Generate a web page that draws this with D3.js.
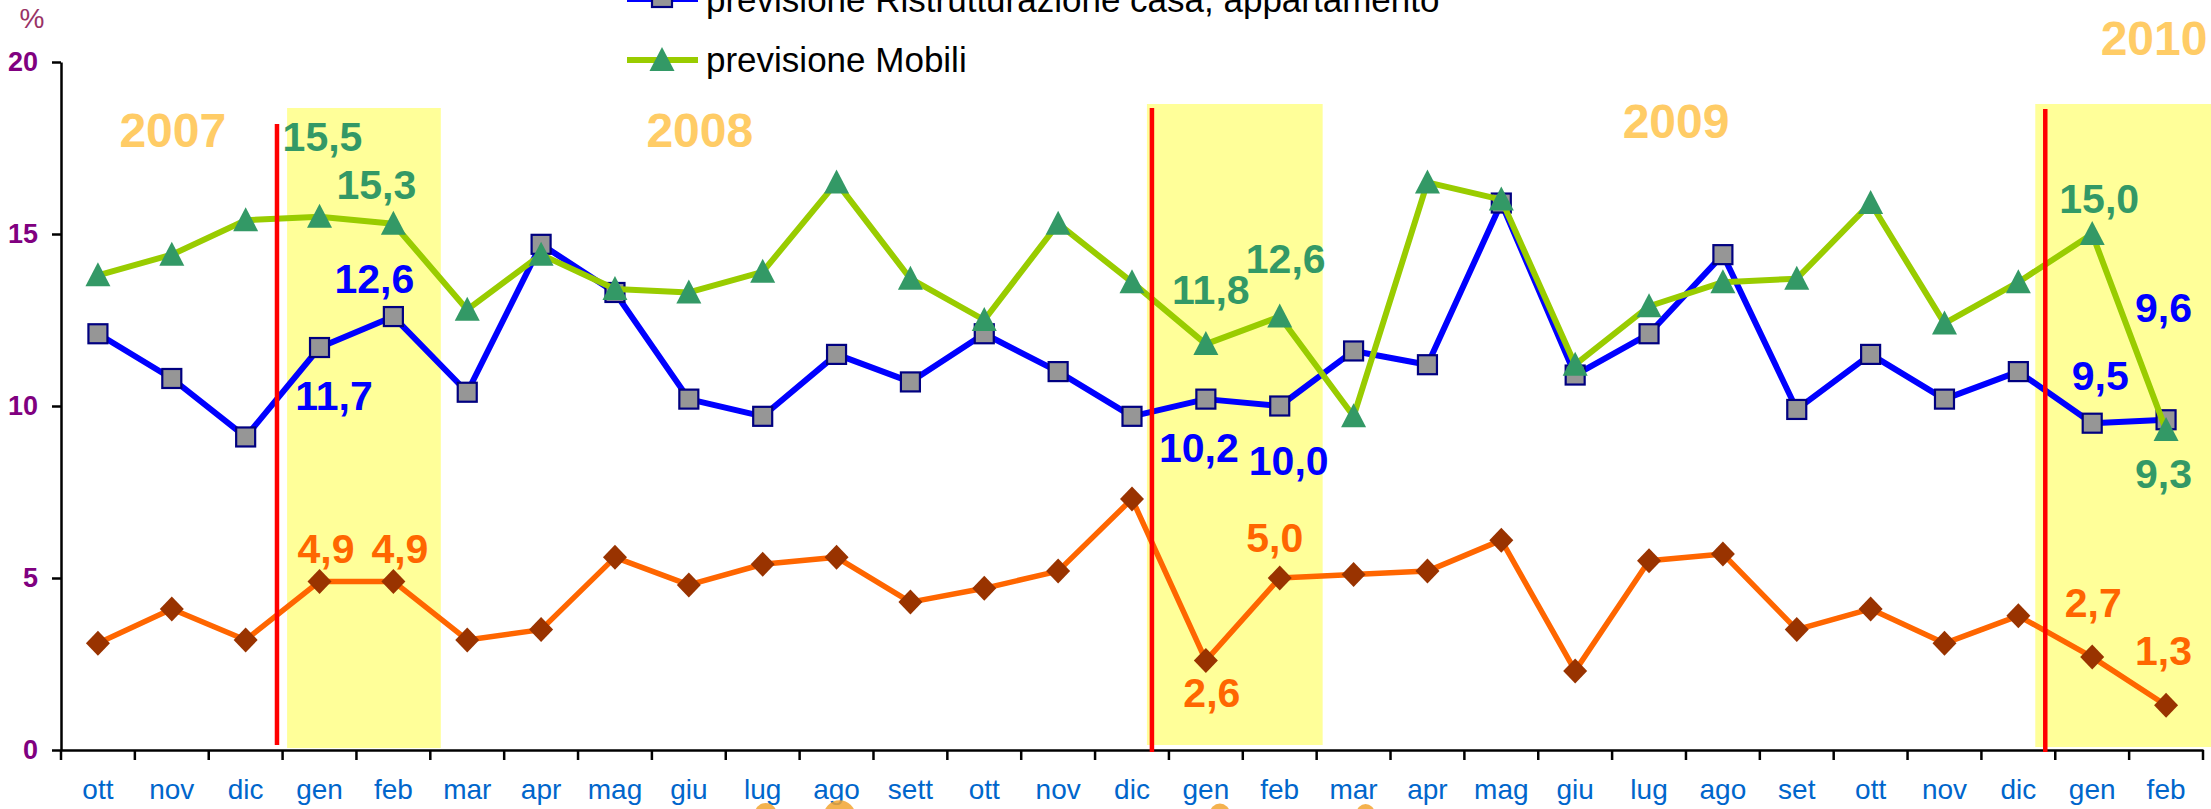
<!DOCTYPE html>
<html>
<head>
<meta charset="utf-8">
<script src="https://cdn.jsdelivr.net/npm/d3@7"></script>
<style>
  html, body { margin: 0; padding: 0; background: #ffffff; overflow: hidden; }
  svg { display: block; font-family: "Liberation Sans", Arial, sans-serif; }
</style>
</head>
<body>
<svg id="chart" width="2211" height="809"></svg>
<script>
// ---------------- data ----------------
const categories = ["ott","nov","dic","gen","feb","mar","apr","mag","giu","lug","ago","sett",
                    "ott","nov","dic","gen","feb","mar","apr","mag","giu","lug","ago","set",
                    "ott","nov","dic","gen","feb"];
const yearLabels = ["2007","2008","2009","2010"];
const seriesNames = ["previsione Altro", "previsione Ristrutturazione casa, appartamento", "previsione Mobili"];
const previsioneAltro = [3.1,4.1,3.2,4.9,4.9,3.2,3.5,5.6,4.8,5.4,5.6,4.3,4.7,5.2,7.3,2.6,5.0,5.1,5.2,6.1,2.3,5.5,5.7,3.5,4.1,3.1,3.9,2.7,1.3];
const previsioneRistrutturazione = [12.1,10.8,9.1,11.7,12.6,10.4,14.7,13.3,10.2,9.7,11.5,10.7,12.1,11.0,9.7,10.2,10.0,11.6,11.2,15.9,10.9,12.1,14.4,9.9,11.5,10.2,11.0,9.5,9.6];
const previsioneMobili = [13.8,14.4,15.4,15.5,15.3,12.8,14.4,13.4,13.3,13.9,16.5,13.7,12.5,15.3,13.6,11.8,12.6,9.7,16.5,16.0,11.2,12.9,13.6,13.7,15.9,12.4,13.6,15.0,9.3];
const yTicks = [0,5,10,15,20];
const labelledIndices = [3,4,15,16,27,28];   // months whose values are printed
const highlightStarts = [3,15,27];           // first month of each highlighted bimester

// ---------------- layout ----------------
const svg = d3.select("#chart");
const W = 2211, H = 809;
const x = d3.scaleBand().domain(d3.range(categories.length)).range([61, 2203]).padding(0);
const cx = i => x(i) + x.bandwidth() / 2;
const y = d3.scaleLinear().domain([0, 20]).range([750, 62]);

svg.append("rect").attr("width", W).attr("height", H).attr("fill", "#ffffff");

// highlight rectangles (layout offsets relative to scale)
const hlLayout = [
  {l: 4.5, r: 10.5, top: 108, bottom: 748},
  {l: -22, r: 6, top: 104, bottom: 745},
  {l: -20, r: 40, top: 104, bottom: 747}
];
highlightStarts.forEach((s, k) => {
  const L = hlLayout[k];
  const x0 = x(s) + L.l;
  const x1 = Math.min(W, x(s + 1) + x.bandwidth() + L.r);
  svg.append("rect")
    .attr("x", x0).attr("y", L.top)
    .attr("width", x1 - x0).attr("height", L.bottom - L.top)
    .attr("fill", "#FFFF99");
});

// year labels
const yearLayout = [
  {i: 1, dx: 1, y: 147},
  {i: 8, dx: 11, y: 147},
  {i: 21, dx: 27, y: 138},
  {i: 28, dx: -12, y: 55}
];
yearLabels.forEach((t, k) => {
  const L = yearLayout[k];
  svg.append("text").attr("x", cx(L.i) + L.dx).attr("y", L.y)
    .attr("text-anchor", "middle").attr("font-size", 48).attr("font-weight", "bold")
    .attr("fill", "#FFCC66").text(t);
});

// y axis
const yAxis = d3.axisLeft(y).tickValues(yTicks).tickSize(9).tickSizeOuter(0).tickPadding(14);
const gy = svg.append("g").attr("transform", "translate(61,0)").call(yAxis);
gy.select(".domain").attr("stroke", "#000").attr("stroke-width", 2.5);
gy.selectAll(".tick line").attr("stroke", "#000").attr("stroke-width", 2.5);
gy.selectAll(".tick text").attr("font-size", 27).attr("font-weight", "bold")
  .attr("fill", "#800080").attr("font-family", "Liberation Sans, Arial, sans-serif");

svg.append("text").attr("x", 32).attr("y", 28).attr("text-anchor", "middle")
  .attr("font-size", 28).attr("fill", "#993366").text("%");

// x axis
const xAxis = d3.axisBottom(x).tickFormat(i => categories[i]).tickSize(0).tickPadding(31).tickSizeOuter(0);
const gx = svg.append("g").attr("transform", "translate(0,750)").call(xAxis);
gx.select(".domain").attr("stroke", "#000").attr("stroke-width", 2.5);
gx.selectAll(".tick text").attr("font-size", 28).attr("fill", "#0066CC")
  .attr("font-family", "Liberation Sans, Arial, sans-serif").attr("dy", "0.65em");
// boundary ticks
gx.selectAll(".bound").data(d3.range(categories.length + 1)).join("line")
  .attr("class", "bound")
  .attr("x1", i => i < categories.length ? x(i) : x(i - 1) + x.bandwidth())
  .attr("x2", i => i < categories.length ? x(i) : x(i - 1) + x.bandwidth())
  .attr("y1", 0).attr("y2", 10).attr("stroke", "#000").attr("stroke-width", 2.5);

// faint decorative fragments of a picture cut off below the chart
const blobs = [{i: 9, dx: 3, r: 11}, {i: 10, dx: 3, r: 16}, {i: 15, dx: 14, r: 10}, {i: 17, dx: 12, r: 9}];
blobs.forEach(b => {
  svg.append("ellipse").attr("cx", cx(b.i) + b.dx).attr("cy", H + b.r * 0.45)
    .attr("rx", b.r).attr("ry", b.r).attr("fill", "#F2A530").attr("opacity", 0.85);
});

// series
const line = d3.line().x((d, i) => cx(i)).y(d => y(d));
const triPath = "M0,-13L12.5,11L-12.5,11Z";
const diaPath = "M0,-12.5L12,0L0,12.5L-12,0Z";

// orange series
svg.append("path").datum(previsioneAltro).attr("d", line)
  .attr("fill", "none").attr("stroke", "#FF6600").attr("stroke-width", 5.5).attr("stroke-linejoin", "round");
svg.selectAll(".dia").data(previsioneAltro).join("path").attr("class", "dia")
  .attr("transform", (d, i) => `translate(${cx(i)},${y(d)})`)
  .attr("d", diaPath).attr("fill", "#993300");

// blue series
svg.append("path").datum(previsioneRistrutturazione).attr("d", line)
  .attr("fill", "none").attr("stroke", "#0000FF").attr("stroke-width", 6).attr("stroke-linejoin", "round");
svg.selectAll(".sq").data(previsioneRistrutturazione).join("rect").attr("class", "sq")
  .attr("x", (d, i) => cx(i) - 9.5).attr("y", d => y(d) - 9.5)
  .attr("width", 19).attr("height", 19)
  .attr("fill", "#969696").attr("stroke", "#000080").attr("stroke-width", 2.2);

// green series
svg.append("path").datum(previsioneMobili).attr("d", line)
  .attr("fill", "none").attr("stroke", "#99CC00").attr("stroke-width", 6).attr("stroke-linejoin", "round");
svg.selectAll(".tri").data(previsioneMobili).join("path").attr("class", "tri")
  .attr("transform", (d, i) => `translate(${cx(i)},${y(d)})`)
  .attr("d", triPath).attr("fill", "#339966");

// red vertical separators
const redLayout = [{dx: -5.6, top: 124, bottom: 745}, {dx: -17, top: 108, bottom: 752}, {dx: -10, top: 109, bottom: 752}];
highlightStarts.forEach((s, k) => {
  const L = redLayout[k];
  svg.append("line").attr("x1", x(s) + L.dx).attr("x2", x(s) + L.dx)
    .attr("y1", L.top).attr("y2", L.bottom)
    .attr("stroke", "#FF0000").attr("stroke-width", 4.5);
});

// value labels
const fmt = v => d3.format(".1f")(v).replace(".", ",");
const labelOffsets = {
  mobili:   [[3, -66], [-17, -25], [5, -40], [6, -44], [7, -21], [-2.5, 58]],
  ristr:    [[14.5, 62.5], [-19, -24], [-7, 63], [9, 69], [8, -33], [-2.5, -98]],
  altro:    [[6.5, -18], [6.5, -18], [6, 46], [-5, -26], [1, -40], [-2.5, -40]]
};
function drawLabels(values, offs, color) {
  labelledIndices.forEach((i, k) => {
    svg.append("text")
      .attr("x", cx(i) + offs[k][0]).attr("y", y(values[i]) + offs[k][1])
      .attr("text-anchor", "middle").attr("font-size", 41).attr("font-weight", "bold")
      .attr("fill", color).text(fmt(values[i]));
  });
}
drawLabels(previsioneMobili, labelOffsets.mobili, "#339966");
drawLabels(previsioneRistrutturazione, labelOffsets.ristr, "#0000FF");
drawLabels(previsioneAltro, labelOffsets.altro, "#FF6600");

// legend (top part cut off by the frame, as in the original)
const legend = svg.append("g");
const legRows = [
  {name: seriesNames[1], ly: -1, ty: 12, color: "#0000FF", mark: "sq"},
  {name: seriesNames[2], ly: 60, ty: 72, color: "#99CC00", mark: "tri"}
];
legRows.forEach(r => {
  legend.append("line").attr("x1", 627).attr("x2", 698).attr("y1", r.ly).attr("y2", r.ly)
    .attr("stroke", r.color).attr("stroke-width", 6);
  if (r.mark === "sq") {
    legend.append("rect").attr("x", 662 - 10).attr("y", r.ly - 12).attr("width", 20).attr("height", 20)
      .attr("fill", "#969696").attr("stroke", "#000080").attr("stroke-width", 2.2);
  } else {
    legend.append("path").attr("transform", `translate(662,${r.ly})`).attr("d", triPath).attr("fill", "#339966");
  }
  legend.append("text").attr("x", 706).attr("y", r.ty).attr("font-size", 35).attr("fill", "#000").text(r.name);
});
</script>
</body>
</html>
